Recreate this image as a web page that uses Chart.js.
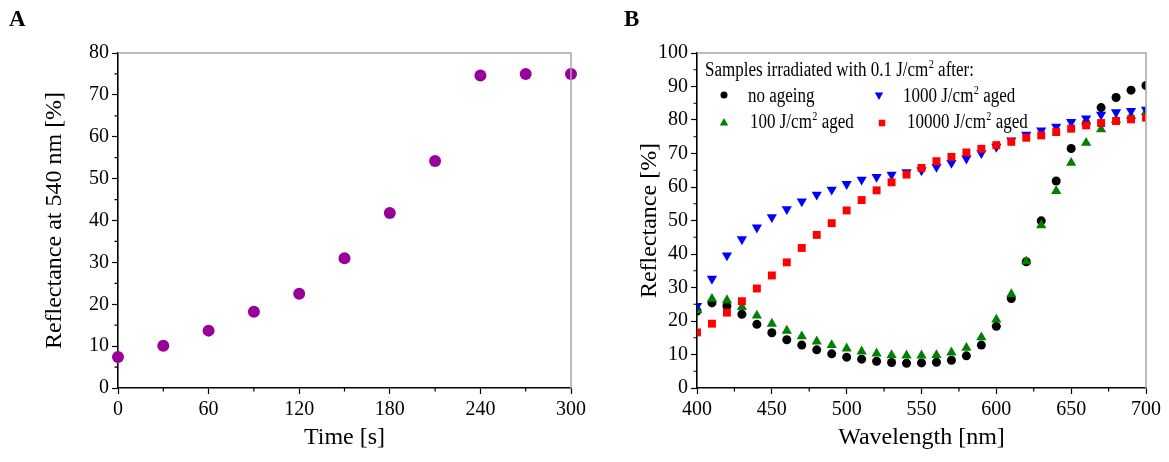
<!DOCTYPE html>
<html>
<head>
<meta charset="utf-8">
<script src="https://cdn.jsdelivr.net/npm/chart.js@4.4.1/dist/chart.umd.min.js"></script>
<style>
  body { margin: 0; background: #fff; }
  .panel { position: absolute; top: 0; height: 462px; }
  #panelA { left: 0; width: 590px; }
  #panelB { left: 585px; width: 584px; }
  .letter { position: absolute; top: 6px; z-index: 2; font: bold 23px "Liberation Serif", serif; color: #000; }
</style>
</head>
<body>
<div class="panel" id="panelA"><canvas id="chartA"></canvas></div>
<div class="panel" id="panelB"><canvas id="chartB"></canvas></div>
<div class="letter" style="left:9px">A</div>
<div class="letter" style="left:624px">B</div>

<script>
// Panel A - reflectance at 540 nm vs irradiation time
const timeS = [0, 30, 60, 90, 120, 150, 180, 210, 240, 270, 300];
const refl540 = [7.4, 10.1, 13.7, 18.2, 22.5, 31.0, 41.8, 54.2, 74.6, 75.0, 75.0];
const timeTicks = [0, 60, 120, 180, 240, 300];
const reflTicksA = [0, 10, 20, 30, 40, 50, 60, 70, 80];

// Panel B - reflectance spectra
const wavelengths = [400, 410, 420, 430, 440, 450, 460, 470, 480, 490, 500, 510, 520, 530, 540, 550,
  560, 570, 580, 590, 600, 610, 620, 630, 640, 650, 660, 670, 680, 690, 700];
const noAgeing = [23.0, 25.4, 24.5, 22.0, 19.0, 16.5, 14.4, 12.8, 11.4, 10.2, 9.2, 8.6, 8.0, 7.6, 7.4, 7.5,
  7.7, 8.3, 9.6, 12.8, 18.4, 26.7, 37.7, 49.9, 61.8, 71.5, 78.9, 83.7, 86.7, 88.9, 90.3];
const aged100 = [23.3, 26.6, 26.2, 24.2, 21.6, 19.2, 17.1, 15.4, 13.9, 12.8, 11.8, 10.9, 10.3, 9.8, 9.7, 9.7,
  9.8, 10.6, 12.0, 15.1, 20.4, 28.0, 37.8, 48.6, 58.8, 67.2, 73.2, 77.2, 80.0, 81.2, 82.4];
const aged1000 = [24.5, 32.6, 39.6, 44.4, 47.9, 51.0, 53.4, 55.7, 57.7, 59.2, 60.9, 62.2, 63.0, 63.7, 64.4, 65.0,
  66.0, 67.2, 68.5, 70.1, 72.0, 73.9, 75.6, 76.9, 78.0, 79.4, 80.5, 81.6, 82.3, 82.7, 83.1];
const aged10000 = [16.6, 19.2, 22.5, 25.9, 29.7, 33.6, 37.5, 41.8, 45.7, 49.2, 53.0, 56.1, 59.0, 61.4, 63.7, 65.7,
  67.7, 69.0, 70.3, 71.4, 72.5, 73.5, 74.7, 75.4, 76.4, 77.4, 78.4, 79.1, 79.7, 80.2, 80.7];
const waveTicks = [400, 450, 500, 550, 600, 650, 700];
const reflTicksB = [0, 10, 20, 30, 40, 50, 60, 70, 80, 90, 100];

const legendTitle = 'Samples irradiated with 0.1 J/cm^2 after:';
const seriesLabels = ['no ageing', '100 J/cm^2 aged', '1000 J/cm^2 aged', '10000 J/cm^2 aged'];

const SERIF = '"Liberation Serif", "Times New Roman", serif';
const LEGEND_SIZE = 20;
const LEGEND_SQUEEZE = 0.85;   // legend font in the original is narrow
Chart.defaults.color = '#000';
Chart.defaults.font.family = SERIF;

// write text with "^2" style superscripts, slightly condensed
function drawSupText(ctx, text, x, y, size) {
  const parts = text.split('^');
  let cx = 0;
  ctx.save();
  ctx.translate(x, y);
  ctx.scale(LEGEND_SQUEEZE, 1);
  parts.forEach((p, i) => {
    if (i > 0) {
      const sup = p.charAt(0);
      ctx.font = (size * 0.6) + 'px ' + SERIF;
      ctx.fillText(sup, cx + 0.5, -size * 0.42);
      cx += ctx.measureText(sup).width + 0.5;
      p = p.slice(1);
    }
    ctx.font = size + 'px ' + SERIF;
    ctx.fillText(p, cx, 0);
    cx += ctx.measureText(p).width;
  });
  ctx.restore();
}

// top/right frame and minor ticks
const framePlugin = {
  id: 'frame',
  afterDraw(chart) {
    const { ctx, chartArea: a } = chart;
    const x = chart.scales.x, y = chart.scales.y;
    ctx.save();
    ctx.strokeStyle = '#a8a8a8';
    ctx.lineWidth = 1.5;
    ctx.beginPath();
    ctx.moveTo(a.left, a.top);
    ctx.lineTo(a.right, a.top);
    ctx.lineTo(a.right, a.bottom);
    ctx.stroke();

    ctx.strokeStyle = '#000';
    ctx.lineWidth = 1.2;
    ctx.beginPath();
    for (let i = 1; i < x.ticks.length; i++) {
      const px = x.getPixelForValue((x.ticks[i - 1].value + x.ticks[i].value) / 2);
      ctx.moveTo(px, a.bottom);
      ctx.lineTo(px, a.bottom + 3.5);
    }
    for (let i = 1; i < y.ticks.length; i++) {
      const py = y.getPixelForValue((y.ticks[i - 1].value + y.ticks[i].value) / 2);
      ctx.moveTo(a.left, py);
      ctx.lineTo(a.left - 3.5, py);
    }
    ctx.stroke();
    ctx.restore();
  }
};

// legend inside panel B (2 columns, column-major)
const legendPlugin = {
  id: 'insideLegend',
  afterDraw(chart) {
    if (!chart.options.plugins.insideLegend) return;
    const { ctx, chartArea: a } = chart;
    ctx.save();
    ctx.fillStyle = '#000';
    ctx.textBaseline = 'alphabetic';
    drawSupText(ctx, legendTitle, a.left + 8, a.top + 23, LEGEND_SIZE);

    const markX = [[27, 27], [182, 185]];
    const textX = [[51, 53], [206, 210]];
    const rowY = [42, 70];
    const baseY = [49, 75];
    chart.data.datasets.forEach((ds, i) => {
      const col = Math.floor(i / 2), row = i % 2;
      ctx.fillStyle = ds.backgroundColor;
      ctx.strokeStyle = ds.borderColor;
      Chart.helpers.drawPoint(ctx, {
        pointStyle: ds.pointStyle,
        rotation: ds.rotation || 0,
        radius: ds.pointRadius - 1,
        borderWidth: 0
      }, a.left + markX[col][row], a.top + rowY[row]);
      ctx.fillStyle = '#000';
      drawSupText(ctx, ds.label, a.left + textX[col][row], a.top + baseY[row], LEGEND_SIZE);
    });
    ctx.restore();
  }
};

function fixedTicks(values) {
  return function(scale) {
    scale.ticks = values.map(v => ({ value: v }));
  };
}

function axis(values, title, fitSize, horizontal, titlePad) {
  return {
    type: 'linear',
    min: values[0],
    max: values[values.length - 1],
    afterBuildTicks: fixedTicks(values),
    afterFit: function(scale) {
      if (horizontal) scale.height = fitSize; else scale.width = fitSize;
    },
    grid: {
      drawOnChartArea: false,
      drawTicks: true,
      tickLength: 6,
      color: '#000',
      tickWidth: 1.2
    },
    border: { color: '#000', width: 1.6 },
    ticks: {
      font: { size: 20, family: SERIF },
      color: '#000',
      padding: horizontal ? 4 : 3,
      maxRotation: 0,
      autoSkip: false
    },
    title: {
      display: true,
      text: title,
      font: { size: 24, family: SERIF },
      color: '#000',
      padding: titlePad
    }
  };
}

function pointsOf(xs, ys) {
  return xs.map((v, i) => ({ x: v, y: ys[i] }));
}

new Chart(document.getElementById('chartA'), {
  type: 'scatter',
  data: {
    datasets: [{
      label: 'Reflectance at 540 nm',
      data: pointsOf(timeS, refl540),
      pointStyle: 'circle',
      pointRadius: 6,
      backgroundColor: '#990099',
      borderColor: '#990099',
      borderWidth: 0,
      clip: false
    }]
  },
  options: {
    responsive: true,
    maintainAspectRatio: false,
    animation: false,
    layout: { padding: { top: 53, right: 19, bottom: 0, left: 0 } },
    plugins: { legend: { display: false }, tooltip: { enabled: false } },
    scales: {
      x: axis(timeTicks, 'Time [s]', 74, true, { top: 0, bottom: 10 }),
      y: axis(reflTicksA, 'Reflectance at 540 nm [%]', 118, false, { top: 40, bottom: 0 })
    }
  },
  plugins: [framePlugin]
});

new Chart(document.getElementById('chartB'), {
  type: 'scatter',
  data: {
    datasets: [
      { label: seriesLabels[0], data: pointsOf(wavelengths, noAgeing), pointStyle: 'circle', pointRadius: 4.5,
        backgroundColor: '#000000', borderColor: '#000000', borderWidth: 0, order: 3 },
      { label: seriesLabels[1], data: pointsOf(wavelengths, aged100), pointStyle: 'triangle', pointRadius: 5.9,
        backgroundColor: '#008000', borderColor: '#008000', borderWidth: 0, order: 2 },
      { label: seriesLabels[2], data: pointsOf(wavelengths, aged1000), pointStyle: 'triangle', rotation: 180,
        pointRotation: 180, pointRadius: 5.9, backgroundColor: '#0000ff', borderColor: '#0000ff', borderWidth: 0, order: 1 },
      { label: seriesLabels[3], data: pointsOf(wavelengths, aged10000), pointStyle: 'rect', pointRadius: 5.6,
        backgroundColor: '#ff0000', borderColor: '#ff0000', borderWidth: 0, order: 0 }
    ]
  },
  options: {
    responsive: true,
    maintainAspectRatio: false,
    animation: false,
    layout: { padding: { top: 53, right: 23, bottom: 0, left: 0 } },
    plugins: { legend: { display: false }, tooltip: { enabled: false }, insideLegend: true },
    scales: {
      x: axis(waveTicks, 'Wavelength [nm]', 74, true, { top: 0, bottom: 10 }),
      y: axis(reflTicksB, 'Reflectance [%]', 112, false, { top: 50, bottom: 0 })
    }
  },
  plugins: [framePlugin, legendPlugin]
});
</script>
</body>
</html>
